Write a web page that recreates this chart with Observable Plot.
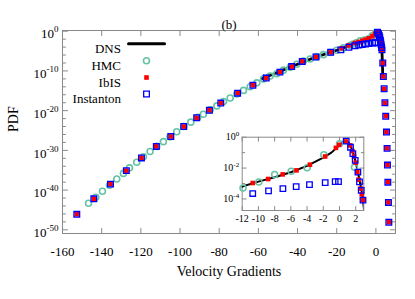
<!DOCTYPE html>
<html><head><meta charset="utf-8">
<script src="https://cdn.jsdelivr.net/npm/d3@7"></script>
<script src="https://cdn.jsdelivr.net/npm/@observablehq/plot@0.6"></script>
<style>
body{margin:0;background:#fff;}
#wrap{position:relative;width:415px;height:299px;}
#wrap svg{position:absolute;}
</style></head><body><div id="wrap"></div>
<script>
// ---- data (velocity gradient, log10 PDF) ----
const dnsV   = [-58.0,-57.2,-56.5,-55.5,-54.5,-52.0,-50.0,-45.0,-40.0,-35.0,-30.0,-25.0,-20.0,-15.0,-12.0,-10.0,-8.0,-6.0,-4.0,-2.0,-1.0,0.0,0.5,0.8,1.2,1.6,2.0,2.4,2.7,2.9,3.05,3.2,3.35,3.5];
const dnsLog = [-11.9,-11.3,-11.7,-11.1,-11.2,-10.7,-10.3,-9.3,-8.3,-7.3,-6.4,-5.6,-4.8,-3.9,-3.2,-2.88,-2.6,-2.27,-1.86,-1.32,-1.0,-0.52,-0.28,-0.22,-0.4,-0.85,-1.6,-2.6,-3.4,-4.1,-4.8,-6.5,-8.8,-11.3];

const hmcV   = [-146.7,-143.0,-139.6,-136.0,-132.3,-128.9,-125.8,-122.1,-118.7,-115.3,-111.9,-108.5,-105.1,-101.7,-98.1,-94.5,-91.0,-88.1,-84.6,-81.2,-77.8,-74.4,-71.0,-67.6,-64.2,-60.8,-57.4,-54.0,-50.6,-47.2,-43.8,-40.4,-37.0,-33.6,-30.2,-26.8,-23.4,-20.0,-16.6,-13.2,-11.9,-9.95,-8.0,-5.96,-3.99,-1.93,0.0,1.85];
const hmcLog = [-43.3,-41.8,-40.3,-38.8,-37.2,-35.8,-34.4,-33.0,-31.6,-30.3,-29.0,-27.8,-26.6,-25.3,-24.0,-22.9,-21.7,-20.9,-19.8,-18.8,-17.7,-16.8,-15.8,-14.9,-14.0,-13.0,-12.0,-11.3,-10.7,-9.8,-9.1,-8.3,-7.5,-7.0,-6.4,-5.9,-5.35,-4.8,-4.2,-3.6,-3.29,-2.9,-2.41,-2.21,-1.98,-1.14,-0.43,-1.94];

const ibisV   = [-152.7,-144.0,-135.5,-127.4,-119.7,-112.1,-104.7,-98.1,-91.5,-85.0,-79.2,-70.6,-62.8,-56.0,-49.0,-43.0,-37.6,-30.6,-23.1,-17.5,-14.0,-10.7,-8.8,-7.0,-5.3,-3.65,-1.77,-0.44,-0.04,0.79,1.32,1.6,1.8,2.0,2.2,2.35,2.6,2.75,2.9,3.1,3.5,3.8,4.2,4.6,5.0,5.4,5.7,5.9,6.1,6.4,6.6];
const ibisLog = [-46.1,-42.2,-38.5,-35.1,-31.9,-29.0,-26.5,-24.0,-21.8,-19.9,-18.1,-15.6,-13.6,-11.8,-10.3,-8.9,-7.6,-6.5,-5.3,-4.3,-3.6,-2.97,-2.71,-2.41,-2.15,-1.78,-1.25,-0.69,-0.49,-0.28,-0.53,-0.9,-1.25,-1.65,-2.26,-2.75,-3.33,-3.70,-4.08,-4.7,-8.0,-11.4,-14.5,-18.0,-21.4,-25.4,-29.5,-33.7,-38.0,-43.1,-48.1];

const instV   = [-152.7,-144.0,-135.5,-127.4,-119.7,-112.1,-104.7,-98.1,-91.5,-85.0,-79.2,-70.6,-62.8,-56.0,-49.0,-43.0,-37.6,-30.6,-23.1,-17.9,-13.8,-10.7,-8.75,-6.98,-5.34,-3.7,-1.76,-0.53,-0.12,0.83,1.36,1.65,1.94,2.27,2.47,2.68,2.9,3.1,3.5,3.8,4.2,4.6,5.0,5.4,5.7,5.9,6.1,6.4,6.6];
const instLog = [-46.1,-42.2,-38.5,-35.1,-31.9,-29.0,-26.5,-24.0,-21.8,-19.9,-18.1,-15.6,-13.6,-11.8,-10.3,-8.9,-7.6,-6.5,-5.3,-4.7,-4.05,-3.65,-3.48,-3.33,-3.2,-3.07,-2.94,-2.88,-2.88,-0.26,-0.65,-1.07,-1.5,-2.26,-2.9,-3.44,-4.08,-4.7,-8.0,-11.4,-14.5,-18.0,-21.4,-25.4,-29.5,-33.7,-38.0,-43.1,-48.1];

// ticks
const xTicks = [-160,-140,-120,-100,-80,-60,-40,-20,0];
const yMajorExp = [0,-10,-20,-30,-40,-50];
const yMinorExp = [-2,-4,-6,-8,-12,-14,-16,-18,-22,-24,-26,-28,-32,-34,-36,-38,-42,-44,-46,-48];
const insetXTicks = [-12,-10,-8,-6,-4,-2,0,2];
const insetYMajorExp = [0,-2,-4];
const insetYMinorExp = [-1,-3];

const seriesNames = ["DNS","HMC","IbIS","Instanton"];
const titleText = "(b)";
const xLabel = "Velocity Gradients";
const yLabel = "PDF";

// ---- build ----
const rows = (V, L) => V.map((v, i) => ({v, p: 10 ** L[i]}));
const dns = rows(dnsV, dnsLog), hmc = rows(hmcV, hmcLog), ibis = rows(ibisV, ibisLog), inst = rows(instV, instLog);
const hmcColor = "#66c2a5", frameColor = "#8a8a8a";
const serif = '"Liberation Serif","Times New Roman",serif';
const tickShape = {draw(ctx, l) { ctx.moveTo(0, 0); ctx.lineTo(0, -l); }};
const tk = (o) => ({anchor: "start", shape: tickShape, stroke: frameColor, strokeWidth: 1, ...o});

function ticks(xs, yMaj, yMin, lMaj, lMin) {
  return [
    Plot.vector(xs, tk({x: d => d, frameAnchor: "bottom", rotate: 0, length: lMaj})),
    Plot.vector(xs, tk({x: d => d, frameAnchor: "top", rotate: 180, length: lMaj})),
    Plot.vector(yMaj, tk({y: d => 10 ** d, frameAnchor: "left", rotate: 90, length: lMaj})),
    Plot.vector(yMaj, tk({y: d => 10 ** d, frameAnchor: "right", rotate: -90, length: lMaj})),
    Plot.vector(yMin, tk({y: d => 10 ** d, frameAnchor: "left", rotate: 90, length: lMin})),
    Plot.vector(yMin, tk({y: d => 10 ** d, frameAnchor: "right", rotate: -90, length: lMin}))
  ];
}
function supLabels(svg, supSize, raise) {
  svg.querySelectorAll('g[aria-label="y-axis tick label"] text').forEach(t => {
    const e = t.textContent;
    t.textContent = "10";
    const ts = document.createElementNS("http://www.w3.org/2000/svg", "tspan");
    ts.setAttribute("dy", -raise);
    ts.setAttribute("font-size", supSize);
    ts.textContent = e;
    t.appendChild(ts);
  });
}
const expFmt = d => String(Math.round(Math.log10(d)));

const main = Plot.plot({
  width: 415, height: 299,
  marginLeft: 62, marginRight: 20, marginTop: 30, marginBottom: 66,
  x: {domain: [-160, 10]},
  y: {type: "log", domain: [10 ** -50.93, 10 ** 0.18]},
  style: {fontFamily: serif, fontSize: "13px", background: "white", overflow: "visible", color: "black"},
  marks: [
    Plot.frame({stroke: frameColor}),
    ...ticks(xTicks, yMajorExp, yMinorExp, 5, 3),
    Plot.line(dns, {x: "v", y: "p", stroke: "black", strokeWidth: 2.8}),
    Plot.dot(hmc, {x: "v", y: "p", r: 3, stroke: hmcColor, strokeWidth: 1.6, fill: "none"}),
    Plot.dot(ibis, {x: "v", y: "p", symbol: "square", r: 2.6, fill: "red"}),
    Plot.dot(inst, {x: "v", y: "p", symbol: "square", r: 3.2, stroke: "blue", strokeWidth: 1.3, fill: "none"}),
    Plot.axisX(xTicks, {tickSize: 0, tickPadding: 13, fontSize: 13, tickFormat: d => String(d), label: null}),
    Plot.axisY(yMajorExp.map(e => 10 ** e), {tickSize: 0, tickPadding: 4, fontSize: 13, dy: 3, tickFormat: expFmt, label: null}),
    Plot.text([titleText], {text: d => d, frameAnchor: "top", dy: -11, fontSize: 13}),
    Plot.text([xLabel], {text: d => d, frameAnchor: "bottom", dy: 42, fontSize: 14}),
    Plot.text([yLabel], {text: d => d, frameAnchor: "left", dx: -49, rotate: -90, fontSize: 14}),
    // legend
    Plot.text([seriesNames[0]], {text: d => d, frameAnchor: "top-left", dx: 58.5, dy: 13.3, textAnchor: "end", fontSize: 13}),
    Plot.text([seriesNames[1]], {text: d => d, frameAnchor: "top-left", dx: 58.5, dy: 30.3, textAnchor: "end", fontSize: 13}),
    Plot.text([seriesNames[2]], {text: d => d, frameAnchor: "top-left", dx: 58.5, dy: 47, textAnchor: "end", fontSize: 13}),
    Plot.text([seriesNames[3]], {text: d => d, frameAnchor: "top-left", dx: 58.5, dy: 63.5, textAnchor: "end", fontSize: 13}),
    Plot.vector([0], {frameAnchor: "top-left", dx: 66, dy: 13.3, rotate: 90, length: 36, anchor: "start", shape: tickShape, stroke: "black", strokeWidth: 3}),
    Plot.dot([0], {frameAnchor: "top-left", dx: 84, dy: 30.3, r: 3, stroke: hmcColor, strokeWidth: 1.6, fill: "none"}),
    Plot.dot([0], {frameAnchor: "top-left", dx: 84, dy: 47, symbol: "square", r: 2.6, fill: "red"}),
    Plot.dot([0], {frameAnchor: "top-left", dx: 84, dy: 63.5, symbol: "square", r: 3.2, stroke: "blue", strokeWidth: 1.3, fill: "none"})
  ]
});
supLabels(main, 9, 6);
main.style.left = "0px"; main.style.top = "0px";

const inX = d => d.v >= -12.05 && d.v <= 3.05 && d.p >= 10 ** -4.8;
const inset = Plot.plot({
  width: 170, height: 105,
  marginLeft: 41.7, marginRight: 6.7, marginTop: 11.7, marginBottom: 20,
  x: {domain: [-12, 3]},
  y: {type: "log", domain: [10 ** -4.75, 1]},
  style: {fontFamily: serif, fontSize: "10px", background: "transparent", overflow: "visible", color: "black"},
  marks: [
    Plot.frame({stroke: frameColor, fill: "white"}),
    ...ticks(insetXTicks, insetYMajorExp, insetYMinorExp, 4, 2.5),
    Plot.line(dns, {x: "v", y: "p", stroke: "black", strokeWidth: 2, clip: true}),
    Plot.dot(hmc.filter(inX), {x: "v", y: "p", r: 3, stroke: hmcColor, strokeWidth: 1.5, fill: "none"}),
    Plot.dot(ibis.filter(inX), {x: "v", y: "p", symbol: "square", r: 2.6, fill: "red"}),
    Plot.dot(inst.filter(inX), {x: "v", y: "p", symbol: "square", r: 3.1, stroke: "blue", strokeWidth: 1.3, fill: "none"}),
    Plot.axisX(insetXTicks, {tickSize: 0, tickPadding: 4, fontSize: 10, tickFormat: d => String(d), label: null}),
    Plot.axisY(insetYMajorExp.map(e => 10 ** e), {tickSize: 0, tickPadding: 3, fontSize: 10, tickFormat: expFmt, label: null})
  ]
});
supLabels(inset, 7, 4);
inset.style.left = "200px"; inset.style.top = "125px";

const wrap = document.getElementById("wrap");
wrap.appendChild(main);
wrap.appendChild(inset);
</script>
</body></html>
